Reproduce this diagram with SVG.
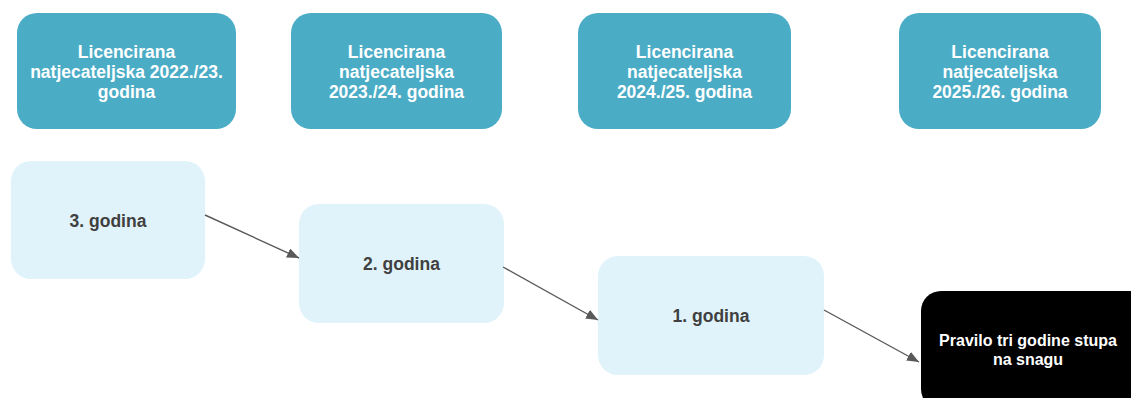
<svg xmlns="http://www.w3.org/2000/svg" width="1131" height="398" viewBox="0 0 1131 398">
<style>
.top{fill:#4BACC6}
.yr{fill:#E1F3FA}
.blk{fill:#000000}
.tw{font-family:"Liberation Sans",Arial,sans-serif;font-size:17.5px;font-weight:bold;fill:#FFFFFF;text-anchor:middle}
.tb{font-family:"Liberation Sans",Arial,sans-serif;font-size:16px;font-weight:bold;fill:#FFFFFF;text-anchor:middle}
.td{font-family:"Liberation Sans",Arial,sans-serif;font-size:17.5px;font-weight:bold;fill:#404040;text-anchor:middle}
.con{stroke:#595959;stroke-width:1.4;fill:none}
</style>
<defs>
<marker id="ah" viewBox="0 0 12 10" refX="12" refY="5" markerWidth="12" markerHeight="10" markerUnits="userSpaceOnUse" orient="auto">
<path d="M0,0 L12,5 L0,10 z" fill="#595959"/>
</marker>
</defs>
<rect width="1131" height="398" fill="#FFFFFF"/>
<g id="lic1">
<rect class="top" x="17" y="13" width="219" height="116" rx="20"/>
<text class="tw" x="126.5" y="58">Licencirana</text>
<text class="tw" x="126.5" y="78">natjecateljska 2022./23.</text>
<text class="tw" x="126.5" y="98">godina</text>
</g>
<g id="lic2">
<rect class="top" x="291" y="13" width="211" height="116" rx="20"/>
<text class="tw" x="396.5" y="58">Licencirana</text>
<text class="tw" x="396.5" y="78">natjecateljska</text>
<text class="tw" x="396.5" y="98">2023./24. godina</text>
</g>
<g id="lic3">
<rect class="top" x="578" y="13" width="213" height="116" rx="20"/>
<text class="tw" x="684.5" y="58">Licencirana</text>
<text class="tw" x="684.5" y="78">natjecateljska</text>
<text class="tw" x="684.5" y="98">2024./25. godina</text>
</g>
<g id="lic4">
<rect class="top" x="899" y="13" width="202" height="116" rx="20"/>
<text class="tw" x="1000" y="58">Licencirana</text>
<text class="tw" x="1000" y="78">natjecateljska</text>
<text class="tw" x="1000" y="98">2025./26. godina</text>
</g>
<g id="god3">
<rect class="yr" x="11" y="161" width="194" height="118" rx="20"/>
<text class="td" x="108" y="227">3. godina</text>
</g>
<g id="god2">
<rect class="yr" x="299" y="204" width="205" height="119" rx="20"/>
<text class="td" x="401.5" y="270">2. godina</text>
</g>
<g id="god1">
<rect class="yr" x="598" y="256" width="226" height="119" rx="20"/>
<text class="td" x="711" y="322">1. godina</text>
</g>
<g id="pravilo">
<rect class="blk" x="921" y="291" width="230" height="118" rx="20"/>
<text class="tb" x="1028" y="346">Pravilo tri godine stupa</text>
<text class="tb" x="1028" y="365">na snagu</text>
</g>
<g id="connectors">
<line class="con" x1="205" y1="215" x2="299" y2="258" marker-end="url(#ah)"/>
<line class="con" x1="503" y1="267" x2="598" y2="320" marker-end="url(#ah)"/>
<line class="con" x1="824" y1="310" x2="919" y2="362" marker-end="url(#ah)"/>
</g>
</svg>
